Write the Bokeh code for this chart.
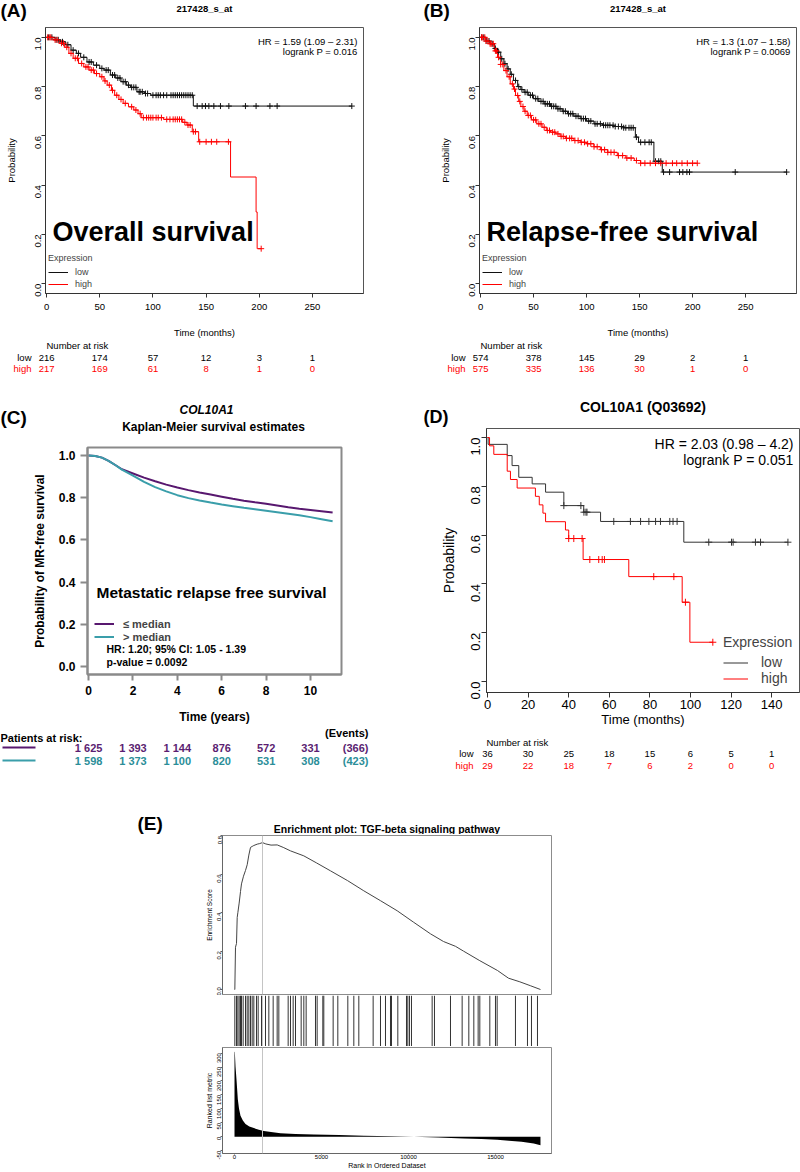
import math
from bokeh.plotting import figure
from bokeh.models import (Range1d, FixedTicker, PrintfTickFormatter, Label, Legend,
                          LegendItem, Span)
from bokeh.layouts import row, column
from bokeh.embed import file_html
from bokeh.resources import INLINE

FONT = "Liberation Sans"

# ======================= DATA =======================
# ---- Panel A : Overall survival (months) ----
A_title = "217428_s_at"
A_low_t = [0, 8, 13, 18, 23, 28, 32, 38, 44, 50, 54, 60, 65, 70, 75, 79, 85, 92, 98, 138]
A_low_s = [1.0, 0.99, 0.982, 0.97, 0.948, 0.935, 0.919, 0.90, 0.887, 0.874, 0.867, 0.847,
           0.835, 0.82, 0.806, 0.797, 0.779, 0.772, 0.765, 0.721]
A_low_end = 287
A_low_cens = [2, 5, 9, 11, 15, 20, 25, 30, 35, 40, 42, 47, 52, 56, 58, 62, 64, 67, 69, 72, 74,
              77, 80, 82, 84, 87, 88, 90, 93, 95, 100, 103, 105, 107, 110, 113, 117, 119, 121,
              123, 125, 127, 129, 131, 133, 135, 137, 141.6, 146.3, 149.4, 152.6, 157.3, 163.5,
              171.4, 187, 197, 210, 216.8, 287]
A_high_t = [0, 6, 12, 17, 21, 25, 30, 35, 40, 45, 50, 54, 57, 61, 64, 68, 72, 77, 82, 86, 89,
            110, 128, 132, 137, 143, 173, 197, 198]
A_high_s = [1.0, 0.99, 0.976, 0.96, 0.935, 0.915, 0.894, 0.88, 0.867, 0.853, 0.84, 0.823,
            0.806, 0.785, 0.765, 0.748, 0.732, 0.718, 0.705, 0.69, 0.674, 0.667, 0.655, 0.644,
            0.617, 0.576, 0.433, 0.291, 0.142]
A_high_end = 201.8
A_high_cens = [1, 3, 4, 8, 10, 14, 16, 19, 23, 27, 29, 33, 37, 39, 42, 44, 47, 52, 55, 59, 62,
               66, 70, 74, 80, 84, 88, 91, 94, 96, 98, 100, 103, 105, 108, 113, 116, 119, 121,
               123, 125, 127, 130, 133, 135, 138, 140, 144, 150, 155, 160, 171, 201.8]
A_hr = "HR = 1.59 (1.09 \u2013 2.31)"
A_p = "logrank P = 0.016"
A_big = "Overall survival"
A_risk_times = [0, 50, 100, 150, 200, 250]
A_risk_low = [216, 174, 57, 12, 3, 1]
A_risk_high = [217, 169, 61, 8, 1, 0]

# ---- Panel B : Relapse-free survival (months) ----
B_title = "217428_s_at"
B_low_t = [0, 5, 9, 13, 16, 19, 22, 25, 28, 31, 35, 38, 41, 45, 50, 55, 60, 66, 72, 77, 82,
           88, 94, 100, 107, 115, 126, 135, 146, 149, 163.5, 171.4]
B_low_s = [1.0, 0.985, 0.974, 0.955, 0.94, 0.913, 0.893, 0.872, 0.85, 0.825, 0.80, 0.788,
           0.777, 0.765, 0.751, 0.74, 0.73, 0.72, 0.71, 0.70, 0.69, 0.68, 0.67, 0.66, 0.649,
           0.643, 0.638, 0.633, 0.595, 0.574, 0.497, 0.453]
B_low_end = 288.7
B_low_cens = [1, 3, 6, 8, 11, 14, 17, 20, 23, 26, 29, 33, 36, 39, 42, 44, 47, 49, 52, 54, 57,
              59, 61, 63, 65, 67, 69, 71, 73, 75, 78, 80, 83, 85, 87, 90, 92, 95, 97, 99, 102,
              104, 108, 110, 113, 116, 118, 120, 122, 125, 127, 130, 133, 135, 137, 140, 142,
              144, 147, 151, 155, 159, 161, 165, 168, 170, 172.6, 178.3, 187.7, 190.8, 194.6,
              197.1, 240.2, 288.7]
B_high_t = [0, 5, 9, 13, 16, 19, 22, 25, 28, 31, 33, 36, 38, 41, 44, 48, 53, 58, 62, 66, 71,
            75, 80, 88, 94, 100, 107, 113, 120, 129, 137, 145, 151]
B_high_s = [1.0, 0.985, 0.974, 0.945, 0.919, 0.89, 0.865, 0.84, 0.811, 0.79, 0.764, 0.74,
            0.719, 0.70, 0.683, 0.665, 0.649, 0.635, 0.622, 0.615, 0.608, 0.598, 0.59, 0.581,
            0.574, 0.568, 0.556, 0.544, 0.533, 0.52, 0.51, 0.50, 0.489]
B_high_end = 204.4
B_high_cens = [1, 2, 4, 5, 7, 9, 10, 12, 14, 15, 17, 19, 21, 24, 27, 30, 32, 35, 37, 40, 42,
               45, 47, 50, 52, 55, 57, 60, 63, 65, 68, 70, 73, 76, 78, 81, 84, 86, 89, 92, 95,
               98, 101, 104, 107, 110, 114, 117, 120, 123, 126, 130, 134, 138, 142, 147, 151,
               155, 160, 165, 170, 175, 181, 185, 190, 195, 200, 204.4]
B_hr = "HR = 1.3 (1.07 \u2013 1.58)"
B_p = "logrank P = 0.0069"
B_big = "Relapse-free survival"
B_risk_times = [0, 50, 100, 150, 200, 250]
B_risk_low = [574, 378, 145, 29, 2, 1]
B_risk_high = [575, 335, 136, 30, 1, 0]

# ---- Panel C : Metastatic relapse free survival (years) ----
C_t = [0, 0.3, 0.6, 0.9, 1.2, 1.5, 2.0, 2.5, 3.0, 3.5, 4.0, 4.5, 5.0, 5.5, 6.0, 6.5, 7.0, 7.5,
       8.0, 8.5, 9.0, 9.5, 10.0, 10.5, 11.0]
C_low_s = [1.0, 0.998, 0.99, 0.975, 0.955, 0.935, 0.915, 0.895, 0.878, 0.862, 0.848, 0.836,
           0.825, 0.815, 0.805, 0.795, 0.786, 0.778, 0.771, 0.763, 0.755, 0.748, 0.742, 0.736,
           0.730]
C_high_s = [1.0, 0.998, 0.99, 0.975, 0.955, 0.933, 0.905, 0.875, 0.85, 0.83, 0.812, 0.798,
            0.787, 0.777, 0.768, 0.76, 0.752, 0.745, 0.738, 0.731, 0.724, 0.717, 0.708, 0.698,
            0.688]
C_labels = ["\u2264 median", "> median"]
C_risk_times = [0, 2, 4, 6, 8, 10]
C_risk_low = ["1 625", "1 393", "1 144", "876", "572", "331"]
C_risk_high = ["1 598", "1 373", "1 100", "820", "531", "308"]
C_events = ["(366)", "(423)"]

# ---- Panel D : COL10A1 (months) ----
D_low_t = [0, 0.3, 9.7, 12.1, 15.4, 22, 28.6, 37.6, 47.4, 55.7, 96.7]
D_low_s = [1.0, 0.972, 0.926, 0.885, 0.837, 0.81, 0.776, 0.721, 0.694, 0.656, 0.571]
D_low_end = 148
D_low_cens = [37.6, 46, 47.5, 48.5, 49, 62.2, 70.4, 75.4, 79.5, 82.8, 85.2, 89.8, 91.4, 93.4,
              109, 120.2, 121, 132, 134.5, 148]
D_high_t = [0, 1, 3.1, 9.7, 11.3, 14.6, 23.6, 25.5, 27.3, 28.6, 38.4, 40.0, 47.1, 69.6, 95.9,
            99.7]
D_high_s = [1.0, 0.966, 0.931, 0.862, 0.828, 0.793, 0.759, 0.724, 0.690, 0.655, 0.621, 0.586,
            0.50, 0.43, 0.325, 0.161]
D_high_end = 111
D_high_cens = [40.0, 42.5, 46.6, 50.4, 54.8, 56.5, 57.6, 81.9, 91.8, 97.5, 111]
D_risk_times = [0, 20, 40, 60, 80, 100, 120, 140]
D_risk_low = [36, 30, 25, 18, 15, 6, 5, 1]
D_risk_high = [29, 22, 18, 7, 6, 2, 0, 0]

# ---- Panel E : GSEA enrichment plot ----
E_rank = [0, 19, 57, 115, 155, 192, 268, 345, 402, 517, 632, 730, 824, 920, 1015, 1111, 1305,
          1450, 1609, 1800, 2100, 2454, 2800, 3218, 3983, 4700, 5517, 6500, 7431, 8400, 9351,
          10300, 11264, 12011, 12700, 13161, 14100, 15115, 15747, 16400, 17000, 17586]
E_es = [0, 0.0, 0.22, 0.24, 0.375, 0.40, 0.45, 0.51, 0.55, 0.59, 0.62, 0.65, 0.70, 0.74, 0.745,
        0.75, 0.757, 0.76, 0.765, 0.758, 0.752, 0.753, 0.74, 0.722, 0.696, 0.66, 0.618, 0.567,
        0.514, 0.462, 0.41, 0.35, 0.29, 0.25, 0.225, 0.20, 0.15, 0.099, 0.059, 0.04, 0.02, 0.0]
E_hits = [19, 115, 192, 268, 345, 402, 498, 632, 728, 824, 920, 1015, 1111, 1264, 1360, 1552,
          1782, 1973, 2222, 2452, 2548, 3084, 3218, 3372, 3506, 3831, 3984, 4118, 4655, 4750,
          5076, 5133, 5670, 5938, 6513, 6858, 7145, 7969, 8391, 8678, 8966, 9023, 9387, 9885,
          9962, 10057, 10172, 11360, 11494, 12414, 13084, 13468, 13755, 14004, 14100, 14675,
          15000, 15096, 16149, 16839, 17069, 17414]
E_peak = 1609
M_rank = [0, 19, 60, 115, 192, 260, 345, 480, 632, 850, 1111, 1400, 1686, 2100, 2644, 3500,
          4560, 6000, 7433, 9000, 10306, 11700, 13180, 14200, 15096, 15766, 16500, 17200, 17586]
M_val = [305, 304, 250, 204, 134, 100, 75, 58, 46, 37, 31, 25, 21, 17, 13, 10, 8, 6, 4, 2, 0,
         -3, -6, -8, -11, -14, -18, -24, -30]

# ======================= HELPERS =======================
LOW_COL = "#111111"
HIGH_COL = "#ff0000"
PURPLE = "#58186f"
TEAL = "#3a9eaa"
PURPLE_TXT = "#5b1e72"
TEAL_TXT = "#2b8e99"


def surv_at(ts, ss, t):
    v = ss[0]
    for ti, si in zip(ts, ss):
        if ti <= t:
            v = si
        else:
            break
    return v


class Frame:
    """Frame position on the page (pixels) and its data ranges."""
    def __init__(self, left, top, right, bottom, xr, yr):
        self.left, self.top, self.right, self.bottom = left, top, right, bottom
        self.xr, self.yr = xr, yr

    def fx(self, px):
        x0, x1 = self.xr
        return x0 + (px - self.left) * (x1 - x0) / (self.right - self.left)

    def fy(self, py):
        y0, y1 = self.yr
        return y1 - (py - self.top) * (y1 - y0) / (self.bottom - self.top)


def make_fig(ox, oy, w, h, fr, xaxis=True, yaxis=True):
    p = figure(width=w, height=h, x_range=Range1d(*fr.xr), y_range=Range1d(*fr.yr),
               x_axis_location="below" if xaxis else None,
               y_axis_location="left" if yaxis else None,
               output_backend="svg", toolbar_location=None, tools="")
    p.min_border_left = fr.left - ox
    p.min_border_top = fr.top - oy
    p.min_border_right = ox + w - fr.right
    p.min_border_bottom = oy + h - fr.bottom
    p.grid.visible = False
    p.background_fill_color = "white"
    p.border_fill_color = "white"
    p.outline_line_color = "#444444"
    p.outline_line_width = 1
    return p


def strip(ox, oy, w, h, ref=None):
    """A text strip whose frame is the whole canvas.  y data = page y; x data = page x,
    or the time scale of the reference frame `ref` when given."""
    if ref is None:
        xr = (ox, ox + w)
    else:
        k = (ref.xr[1] - ref.xr[0]) / (ref.right - ref.left)
        xr = (ref.xr[0] - (ref.left - ox) * k, ref.xr[1] + (ox + w - ref.right) * k)
    fr = Frame(ox, oy, ox + w, oy + h, xr, (oy + h, oy))
    p = make_fig(ox, oy, w, h, fr, xaxis=False, yaxis=False)
    p.outline_line_color = None
    return p, fr


def style_axis(ax, size, ticks, color="#333333", bold=False, tick_out=4, standoff=5,
               label=None, label_size=None, label_bold=False, label_standoff=5,
               orient=None, fmt=None):
    ax.ticker = FixedTicker(ticks=ticks)
    if fmt:
        ax.formatter = PrintfTickFormatter(format=fmt)
    ax.major_label_text_font = FONT
    ax.major_label_text_font_size = f"{size}px"
    ax.major_label_text_font_style = "bold" if bold else "normal"
    ax.major_label_text_color = "black"
    ax.axis_line_color = color
    ax.major_tick_line_color = color
    ax.minor_tick_line_color = None
    ax.major_tick_out = tick_out
    ax.major_tick_in = 0
    ax.major_label_standoff = standoff
    if orient is not None:
        ax.major_label_orientation = orient
    if label is not None:
        ax.axis_label = label
        ax.axis_label_text_font = FONT
        ax.axis_label_text_font_size = f"{label_size}px"
        ax.axis_label_text_font_style = "bold" if label_bold else "normal"
        ax.axis_label_text_color = "black"
        ax.axis_label_standoff = label_standoff


def put(p, x, y, s, size, color="black", style="normal", align="left", baseline="middle"):
    p.add_layout(Label(x=x, y=y, text=s, text_font=FONT, text_font_size=f"{size}px",
                       text_font_style=style, text_color=color, text_align=align,
                       text_baseline=baseline))


def style_legend(leg, size, glyph_w, row_h, standoff, bold=False, title_standoff=3):
    leg.title_text_font = FONT
    leg.title_text_font_size = f"{size}px"
    leg.title_text_font_style = "normal"
    leg.title_standoff = title_standoff
    leg.label_text_font = FONT
    leg.label_text_font_size = f"{size}px"
    leg.label_text_font_style = "bold" if bold else "normal"
    leg.glyph_width = glyph_w
    leg.glyph_height = row_h
    leg.label_height = row_h
    leg.label_standoff = standoff
    leg.spacing = 0
    leg.padding = 2
    leg.margin = 0
    leg.border_line_color = None
    leg.background_fill_alpha = 0


def km_column(ox, fr, tag, tag_x, title, lt, ls, lend, lc, ht, hs, hend, hc, hr, pv, big,
              rt, rlow, rhigh):
    # top strip: tag + title
    top, ft = strip(ox, 0, 400, 26)
    put(top, tag_x, 9.5, tag, 19, style="bold")
    put(top, (fr.left + fr.right) / 2, 7.5, title, 9.5, style="bold", align="center")
    # main plot
    p = make_fig(ox, 26, 400, 314, fr)
    p.outline_line_color = "#555555"
    style_axis(p.xaxis[0], 9.5, [0, 50, 100, 150, 200, 250], tick_out=4, standoff=6,
               label="Time (months)", label_size=9.5, label_standoff=14)
    style_axis(p.yaxis[0], 9.5, [0, 0.2, 0.4, 0.6, 0.8, 1.0], tick_out=4, standoff=3,
               label="Probability", label_size=9.5, label_standoff=13, orient=math.pi / 2,
               fmt="%.1f")
    rl = p.step(lt + [lend], ls + [ls[-1]], mode="after", line_color=LOW_COL, line_width=1)
    rh = p.step(ht + [hend], hs + [hs[-1]], mode="after", line_color=HIGH_COL, line_width=1)
    p.scatter(lc, [surv_at(lt, ls, t) for t in lc], marker="cross", size=6,
              line_color=LOW_COL, line_width=1)
    p.scatter(hc, [surv_at(ht, hs, t) for t in hc], marker="cross", size=6,
              line_color=HIGH_COL, line_width=1)
    leg = Legend(items=[LegendItem(label="low", renderers=[rl]),
                        LegendItem(label="high", renderers=[rh])],
                 title="Expression", location=(3, 3))
    style_legend(leg, 9, 20, 12, 7)
    p.add_layout(leg)
    put(p, fr.fx(fr.right - 6), fr.fy(41), hr, 9.5, align="right")
    put(p, fr.fx(fr.right - 6), fr.fy(51), pv, 9.5, align="right")
    put(p, fr.fx(fr.left + 7), fr.fy(231), big, 27, style="bold")
    # risk table strip
    rk, fk = strip(ox, 340, 400, 38, ref=fr)
    put(rk, fk.fx(fr.left + 1), 345, "Number at risk", 9.5)
    put(rk, fk.fx(fr.left - 14), 357, "low", 9.5, align="right")
    put(rk, fk.fx(fr.left - 14), 368, "high", 9.5, color=HIGH_COL, align="right")
    for t, a, b in zip(rt, rlow, rhigh):
        put(rk, t, 357, str(a), 9.5, align="center")
        put(rk, t, 368, str(b), 9.5, color=HIGH_COL, align="center")
    return column(row(top), p, row(rk))


# ======================= ROW 1 : A, B =======================
fA = Frame(45, 27, 363, 293, (-1, 298), (-0.04, 1.04))
colA = km_column(0, fA, "(A)", 0, A_title, A_low_t, A_low_s, A_low_end, A_low_cens,
                 A_high_t, A_high_s, A_high_end, A_high_cens, A_hr, A_p, A_big,
                 A_risk_times, A_risk_low, A_risk_high)

fB = Frame(479, 27, 796, 293, (-1, 298), (-0.04, 1.04))
colB = km_column(400, fB, "(B)", 423, B_title, B_low_t, B_low_s, B_low_end, B_low_cens,
                 B_high_t, B_high_s, B_high_end, B_high_cens, B_hr, B_p, B_big,
                 B_risk_times, B_risk_low, B_risk_high)

# ======================= ROW 2 : C =======================
topC, _ = strip(0, 378, 400, 68)
put(topC, 0, 417, "(C)", 19, style="bold")
put(topC, 206, 409, "COL10A1", 12, style="bold italic", align="center")
put(topC, 213, 426, "Kaplan-Meier survival estimates", 12, style="bold", align="center")

fC = Frame(87, 447, 341, 674, (-0.05, 11.4), (-0.038, 1.038))
pC = make_fig(0, 446, 400, 281, fC)
pC.outline_line_color = "#8a8a8a"
pC.outline_line_width = 2
style_axis(pC.xaxis[0], 12, [0, 2, 4, 6, 8, 10], color="#8a8a8a", bold=True, tick_out=6,
           standoff=5, label="Time (years)", label_size=12, label_bold=True, label_standoff=12)
style_axis(pC.yaxis[0], 12, [0, 0.2, 0.4, 0.6, 0.8, 1.0], color="#8a8a8a", bold=True,
           tick_out=7, standoff=5, label="Probability of MR-free survival", label_size=12,
           label_bold=True, label_standoff=9, fmt="%.1f")
for ax in (pC.xaxis[0], pC.yaxis[0]):
    ax.axis_line_width = 2
    ax.major_tick_line_width = 2
rc1 = pC.line(C_t, C_low_s, line_color=PURPLE, line_width=2)
rc2 = pC.line(C_t, C_high_s, line_color=TEAL, line_width=2)
legC = Legend(items=[LegendItem(label=C_labels[0], renderers=[rc1]),
                     LegendItem(label=C_labels[1], renderers=[rc2])], location=(7, 31))
style_legend(legC, 11, 20, 13, 9, bold=True)
pC.add_layout(legC)
put(pC, fC.fx(96), fC.fy(592), "Metastatic relapse free survival", 15.5, style="bold")
put(pC, fC.fx(106), fC.fy(648), "HR: 1.20; 95% CI: 1.05 - 1.39", 10.5, style="bold")
put(pC, fC.fx(106), fC.fy(661), "p-value = 0.0092", 10.5, style="bold")

rkC, fkC = strip(0, 727, 400, 46, ref=fC)
put(rkC, fkC.fx(0), 737, "Patients at risk:", 11, style="bold")
put(rkC, fkC.fx(368), 732, "(Events)", 11, style="bold", align="right")
rkC.segment(x0=[fkC.fx(2)], y0=[747], x1=[fkC.fx(35)], y1=[747], line_color=PURPLE,
            line_width=2)
rkC.segment(x0=[fkC.fx(2)], y0=[760], x1=[fkC.fx(35)], y1=[760], line_color=TEAL,
            line_width=2)
for t, a, b in zip(C_risk_times, C_risk_low, C_risk_high):
    put(rkC, t, 747, a, 11, color=PURPLE_TXT, style="bold", align="center")
    put(rkC, t, 760, b, 11, color=TEAL_TXT, style="bold", align="center")
put(rkC, fkC.fx(368), 747, C_events[0], 11, color=PURPLE_TXT, style="bold", align="right")
put(rkC, fkC.fx(368), 760, C_events[1], 11, color=TEAL_TXT, style="bold", align="right")
colC = column(row(topC), pC, row(rkC))

# ======================= ROW 2 : D =======================
topD, _ = strip(400, 378, 400, 49)
put(topD, 423, 416, "(D)", 18, style="bold")
put(topD, 642.5, 406, "COL10A1 (Q03692)", 14, style="bold", align="center")

fD = Frame(486, 428, 799, 692, (-0.5, 153.7), (-0.045, 1.037))
pD = make_fig(400, 427, 400, 309, fD)
pD.outline_line_color = "#555555"
style_axis(pD.xaxis[0], 13, D_risk_times, tick_out=5, standoff=2, label="Time (months)",
           label_size=13, label_standoff=0)
style_axis(pD.yaxis[0], 13, [0, 0.2, 0.4, 0.6, 0.8, 1.0], tick_out=5, standoff=6,
           label="Probability", label_size=14, label_standoff=7, orient=math.pi / 2,
           fmt="%.1f")
rdl = pD.step(D_low_t + [D_low_end], D_low_s + [D_low_s[-1]], mode="after",
              line_color="#333333", line_width=1)
rdh = pD.step(D_high_t + [D_high_end], D_high_s + [D_high_s[-1]], mode="after",
              line_color=HIGH_COL, line_width=1)
pD.scatter(D_low_cens, [surv_at(D_low_t, D_low_s, t) for t in D_low_cens], marker="cross",
           size=7, line_color="#333333", line_width=1)
pD.scatter(D_high_cens, [surv_at(D_high_t, D_high_s, t) for t in D_high_cens],
           marker="cross", size=7, line_color=HIGH_COL, line_width=1)
legD = Legend(items=[LegendItem(label="low", renderers=[rdl]),
                     LegendItem(label="high", renderers=[rdh])],
              title="Expression", location=(237, 6))
style_legend(legD, 14, 25, 15, 13, title_standoff=4)
pD.add_layout(legD)
put(pD, fD.fx(793), fD.fy(443), "HR = 2.03 (0.98 \u2013 4.2)", 14, align="right")
put(pD, fD.fx(793), fD.fy(459), "logrank P = 0.051", 14, align="right")

rkD, fkD = strip(400, 736, 400, 37, ref=fD)
put(rkD, fkD.fx(486), 742, "Number at risk", 9.5)
put(rkD, fkD.fx(473), 753, "low", 9.5, align="right")
put(rkD, fkD.fx(473), 765, "high", 9.5, color=HIGH_COL, align="right")
for t, a, b in zip(D_risk_times, D_risk_low, D_risk_high):
    put(rkD, t, 753, str(a), 9.5, align="center")
    put(rkD, t, 765, str(b), 9.5, color=HIGH_COL, align="center")
colD = column(row(topD), pD, row(rkD))

# ======================= ROW 3 : E =======================
topE, _ = strip(0, 773, 600, 61)
put(topE, 137, 823, "(E)", 19, style="bold")
put(topE, 386.5, 828, "Enrichment plot: TGF-beta signaling pathway", 10.5, style="bold",
    align="center")

E_xr = (-690, 18220)
fE1 = Frame(222, 835, 551, 994, E_xr, (-0.026, 0.802))
pE1 = make_fig(0, 834, 600, 161, fE1, xaxis=False)
pE1.outline_line_color = "#8c8c8c"
style_axis(pE1.yaxis[0], 6, [0, 0.2, 0.4, 0.6, 0.8], color="#666666", tick_out=2, standoff=1,
           label="Enrichment Score", label_size=6.5, label_standoff=0, orient=math.pi / 2,
           fmt="%.1f")
pE1.add_layout(Span(location=E_peak, dimension="height", line_color="#c4c4c4", line_width=1))
pE1.line(E_rank, E_es, line_color="#444444", line_width=1)

fE2 = Frame(222, 995, 551, 1046, E_xr, (0, 1))
pE2 = make_fig(0, 995, 600, 51, fE2, xaxis=False, yaxis=False)
pE2.x_range = pE1.x_range
pE2.outline_line_color = None
pE2.add_layout(Span(location=E_peak, dimension="height", line_color="#c4c4c4", line_width=1))
pE2.segment(x0=E_hits, y0=[0] * len(E_hits), x1=E_hits, y1=[1] * len(E_hits),
            line_color="#333333", line_width=1)

fE3 = Frame(222, 1047, 551, 1155, E_xr, (-60, 320))
pE3 = make_fig(0, 1046, 600, 125, fE3)
pE3.x_range = pE1.x_range
pE3.outline_line_color = "#8c8c8c"
style_axis(pE3.xaxis[0], 6, [0, 5000, 10000, 15000], color="#666666", tick_out=1, standoff=0,
           label="Rank in Ordered Dataset", label_size=7, label_standoff=0, fmt="%d")
style_axis(pE3.yaxis[0], 6, [-50, 0, 50, 100, 150, 200, 250, 300], color="#666666",
           tick_out=2, standoff=1, label="Ranked list metric", label_size=7, label_standoff=0,
           orient=math.pi / 2, fmt="%d")
pE3.add_layout(Span(location=E_peak, dimension="height", line_color="#c4c4c4", line_width=1))
pE3.varea(x=M_rank, y1=[0] * len(M_rank), y2=M_val, fill_color="black")

colE = column(row(topE), pE1, pE2, pE3)

layout = column(row(colA, colB), row(colC, colD), colE)

open("out.html", "w").write(file_html(layout, INLINE))
